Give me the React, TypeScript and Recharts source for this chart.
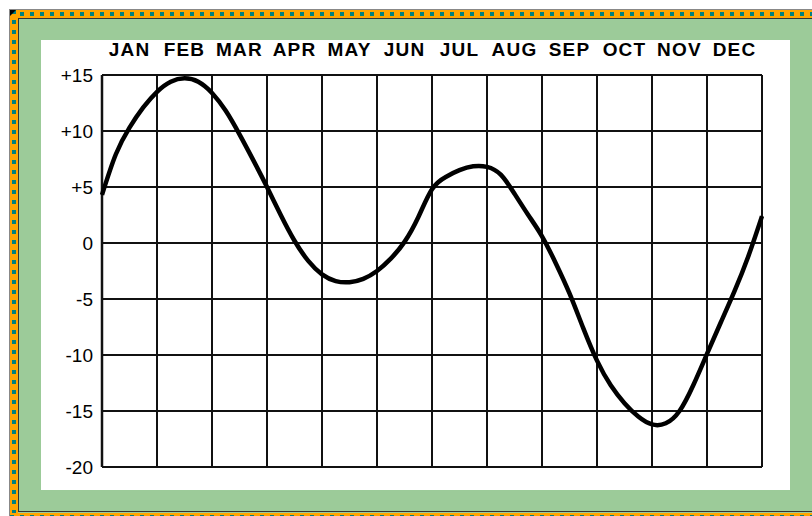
import { LineChart, Line, XAxis, YAxis, CartesianGrid } from "recharts";

// month columns across the top
const monthLabels = ["JAN", "FEB", "MAR", "APR", "MAY", "JUN", "JUL", "AUG", "SEP", "OCT", "NOV", "DEC"];
// vertical grid lines sit on month boundaries
const gridMonths = [0, 1, 2, 3, 4, 5, 6, 7, 8, 9, 10, 11, 12];
const yTicks = [-20, -15, -10, -5, 0, 5, 10, 15];

// curve every quarter month
const curveX = [
  0, 0.25, 0.5, 0.75, 1, 1.25, 1.5, 1.75, 2, 2.25, 2.5, 2.75, 3, 3.25, 3.5, 3.75, 4, 4.25, 4.5, 4.75, 5, 5.25, 5.5, 5.75,
  6, 6.25, 6.5, 6.75, 7, 7.25, 7.5, 7.75, 8, 8.25, 8.5, 8.75, 9, 9.25, 9.5, 9.75, 10, 10.25, 10.5, 10.75, 11, 11.25, 11.5,
  11.75, 12,
];
const curveTemp = [
  4.3, 7.9, 10.3, 12.1, 13.5, 14.4, 14.7, 14.4, 13.4, 11.8, 9.7, 7.4, 5.0, 2.5, 0.2, -1.6, -2.8, -3.4, -3.5, -3.2, -2.5,
  -1.4, 0.1, 2.3, 4.8, 5.9, 6.5, 6.85, 6.8, 6.1, 4.4, 2.5, 0.6, -1.8, -4.5, -7.6, -10.5, -12.7, -14.3, -15.5, -16.2, -16.1,
  -15.0, -12.7, -9.9, -7.1, -4.3, -1.2, 2.4,
];

// left border of the grid, drawn as its own series (bottom to top of the y range)
const edgeX = [gridMonths[0], gridMonths[0]];
const edgeY = [yTicks[0], yTicks[yTicks.length - 1]];

const data = curveX.map((m, i) => ({ m, v: curveTemp[i] }));
const edgeData = edgeX.map((m, i) => ({ m, v: edgeY[i] }));
const labelTicks = monthLabels.map((_, i) => i + 0.5);

const ORANGE = "#ffa500";
const TEAL = "#00807f";
const GREEN = "#9ccb99";

const App = () => {
  return (
    <div style={{ position: "absolute", left: 0, top: 0, width: 812, height: 516 }}>
      {/* frame */}
      <div
        style={{
          position: "absolute",
          left: 9,
          top: 9,
          width: 803,
          height: 507,
          background: GREEN,
          borderTop: "1px solid #888",
          borderLeft: "1px solid #888",
          boxSizing: "border-box",
        }}
      />
      <div
        style={{
          position: "absolute",
          left: 10,
          top: 10,
          width: 802,
          height: 8,
          boxSizing: "border-box",
          borderTop: `2px solid ${ORANGE}`,
          borderBottom: `2px solid ${ORANGE}`,
          background: `repeating-linear-gradient(90deg, ${TEAL} 0 4px, ${ORANGE} 4px 10px)`,
        }}
      />
      <div
        style={{
          position: "absolute",
          left: 10,
          top: 10,
          width: 8,
          height: 506,
          boxSizing: "border-box",
          borderLeft: `2px solid ${ORANGE}`,
          borderRight: `2px solid ${ORANGE}`,
          background: `repeating-linear-gradient(180deg, ${TEAL} 0 4px, ${ORANGE} 4px 10px)`,
        }}
      />
      <div
        style={{
          position: "absolute",
          left: 10,
          top: 513,
          width: 802,
          height: 3,
          boxSizing: "border-box",
          borderTop: `2px solid ${ORANGE}`,
          background: `repeating-linear-gradient(90deg, ${TEAL} 0 4px, ${ORANGE} 4px 10px)`,
        }}
      />
      <div
        style={{
          position: "absolute",
          left: 18,
          top: 18,
          width: 794,
          height: 494,
          boxSizing: "border-box",
          borderTop: "1px solid #333",
          borderLeft: "1px solid #333",
          borderBottom: "1px solid #333",
        }}
      />
      <div
        style={{
          position: "absolute",
          left: 10,
          top: 10,
          width: 0,
          height: 0,
          borderTop: "6px solid #000",
          borderRight: "6px solid transparent",
        }}
      />
      {/* white panel holding the chart */}
      <div style={{ position: "absolute", left: 41, top: 40, width: 749, height: 450, background: "#fff" }}>
        <LineChart
          width={749}
          height={450}
          data={data}
          margin={{ top: 5, right: 28, bottom: 23, left: 6 }}
        >
          <CartesianGrid
            stroke="#111"
            strokeWidth={2}
            verticalValues={gridMonths}
            horizontalValues={yTicks}
          />
          <XAxis
            dataKey="m"
            type="number"
            orientation="top"
            domain={[0, 12]}
            ticks={labelTicks}
            tickFormatter={(v: number) => monthLabels[Math.floor(v)]}
            axisLine={false}
            tickLine={false}
            tickMargin={13}
            height={30}
            interval={0}
            tick={{
              fill: "#000",
              fontSize: 19,
              fontWeight: "bold",
              fontFamily: "'Liberation Sans', Arial, sans-serif",
              letterSpacing: 1.2,
            }}
          />
          <YAxis
            type="number"
            domain={[-20, 15]}
            ticks={yTicks}
            tickFormatter={(v: number) => (v > 0 ? `+${v}` : `${v}`)}
            axisLine={false}
            tickLine={false}
            tickSize={0}
            tickMargin={9}
            width={55}
            interval={0}
            tick={{
              fill: "#000",
              fontSize: 19,
              fontFamily: "'Liberation Sans', Arial, sans-serif",
            }}
          />
          <Line
            data={edgeData}
            type="linear"
            dataKey="v"
            stroke="#111"
            strokeWidth={2.5}
            dot={false}
            activeDot={false}
            isAnimationActive={false}
          />
          <Line
            type="natural"
            dataKey="v"
            stroke="#000"
            strokeWidth={4.5}
            dot={false}
            activeDot={false}
            isAnimationActive={false}
          />
        </LineChart>
      </div>
    </div>
  );
};

export default App;
